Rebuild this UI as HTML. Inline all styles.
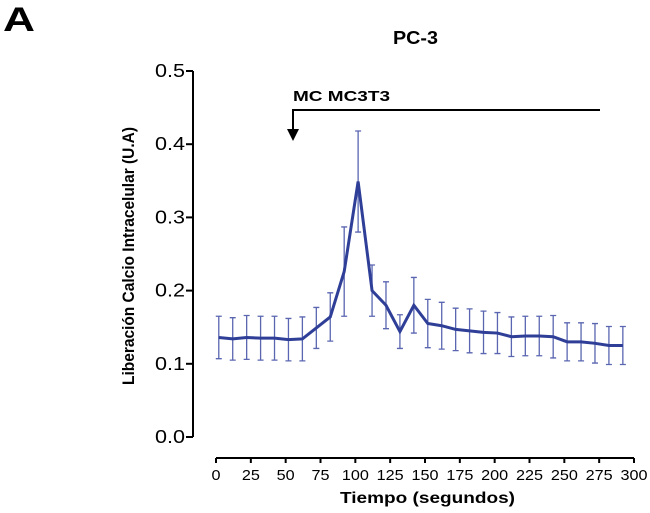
<!DOCTYPE html>
<html><head><meta charset="utf-8"><style>
html,body{margin:0;padding:0;background:#fff;}
svg{display:block;font-family:"Liberation Sans",Arial,sans-serif;}
</style></head><body>
<svg id="chart" width="650" height="513" viewBox="0 0 650 513">
<text x="3" y="31" font-size="34" font-weight="bold" textLength="32" lengthAdjust="spacingAndGlyphs">A</text>
<text x="393" y="44" font-size="18" font-weight="bold" textLength="45" lengthAdjust="spacingAndGlyphs">PC-3</text>
<text transform="translate(134,385) rotate(-90)" font-size="17" font-weight="bold" textLength="258" lengthAdjust="spacingAndGlyphs">Liberación Calcio Intracelular  (U.A)</text>
<text x="340" y="503" font-size="16" font-weight="bold" textLength="175" lengthAdjust="spacingAndGlyphs">Tiempo (segundos)</text>
<g id="axes"></g>
<g id="errs"></g>
<g id="series"></g>
<g>
<text x="293" y="101" font-size="15" font-weight="bold" textLength="97" lengthAdjust="spacingAndGlyphs">MC MC3T3</text>
<polyline points="600,110 293,110 293,132" fill="none" stroke="#000" stroke-width="2"/>
<polygon points="287,129 299,129 293,141" fill="#000"/>
</g>
</svg>
<script>
const times=[2,12,22,32,42,52,62,72,82,92,102,112,122,132,142,152,162,172,182,192,202,212,222,232,242,252,262,272,282,292];
const means=[0.136,0.134,0.136,0.135,0.135,0.133,0.134,0.149,0.164,0.226,0.349,0.200,0.180,0.144,0.180,0.155,0.152,0.147,0.145,0.143,0.142,0.137,0.138,0.138,0.137,0.130,0.130,0.128,0.125,0.125];
const errors=[0.029,0.029,0.030,0.030,0.030,0.029,0.030,0.028,0.033,0.061,0.069,0.035,0.032,0.023,0.038,0.033,0.032,0.029,0.030,0.029,0.028,0.027,0.027,0.027,0.029,0.026,0.026,0.027,0.026,0.026];
const yTicks=[0,0.1,0.2,0.3,0.4,0.5];
const yTickLabels=["0.0","0.1","0.2","0.3","0.4","0.5"];
const xTicks=[0,25,50,75,100,125,150,175,200,225,250,275,300];
const NS="http://www.w3.org/2000/svg";
const X=t=>216+t*(634-216)/300;
const Y=v=>437-v*(437-71)/0.5;
function mk(tag,attrs,parent){const e=document.createElementNS(NS,tag);for(const k in attrs)e.setAttribute(k,attrs[k]);parent.appendChild(e);return e;}
const ax=document.getElementById('axes');
let yl=mk('line',{x1:193,y1:Y(0.5),x2:193,y2:Y(0),stroke:'#000','stroke-width':2},ax);


yTicks.forEach((v,i)=>{
 const t=mk('line',{x1:186,y1:Y(v),x2:193,y2:Y(v),stroke:'#000','stroke-width':2},ax);
 
 
 const l=mk('text',{x:185,y:Y(v)+6,'font-size':18,'text-anchor':'end',textLength:30,lengthAdjust:'spacingAndGlyphs'},ax);
 l.textContent=yTickLabels[i];
 
 
});
let xl=mk('line',{x1:X(0),y1:458,x2:X(300),y2:458,stroke:'#000','stroke-width':2},ax);


xTicks.forEach(v=>{
 const t=mk('line',{x1:X(v),y1:458,x2:X(v),y2:463,stroke:'#000','stroke-width':2},ax);
 
 
 const s=String(v);
 const l=mk('text',{x:X(v),y:480,'font-size':15,'text-anchor':'middle',textLength:s.length*9,lengthAdjust:'spacingAndGlyphs'},ax);
 l.textContent=s;
 
 
});
const eg=document.getElementById('errs');
times.forEach((t,i)=>{
 const x=X(t),y1=Y(means[i]+errors[i]),y2=Y(means[i]-errors[i]);
 const p=mk('path',{d:`M${x},${y1}V${y2}M${x-3},${y1}H${x+3}M${x-3},${y2}H${x+3}`,stroke:'#5a66b0','stroke-width':1.3,fill:'none'},eg);
 
 
});
const sg=document.getElementById('series');
const line=mk('polyline',{points:times.map((t,i)=>X(t)+','+Y(means[i])).join(' '),fill:'none',stroke:'#2f3f98','stroke-width':3,'stroke-linejoin':'miter'},sg);


</script>
</body></html>
